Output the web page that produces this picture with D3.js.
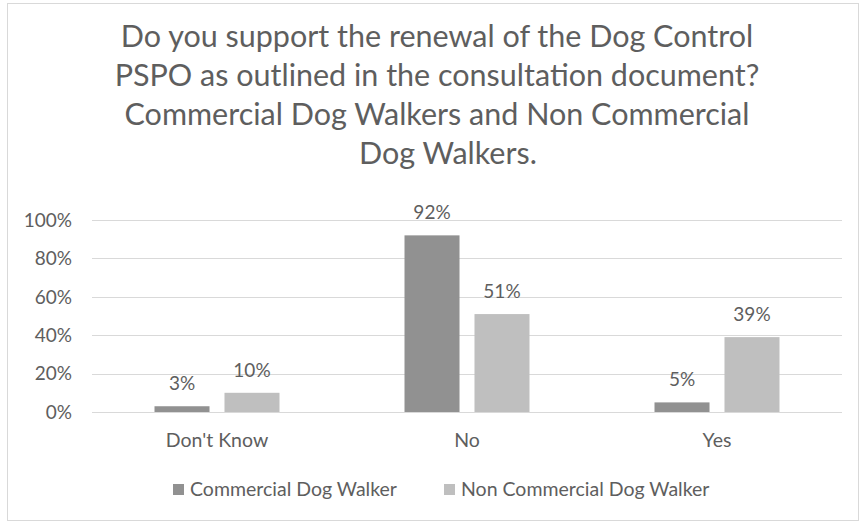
<!DOCTYPE html>
<html>
<head>
<meta charset="utf-8">
<script src="https://cdn.jsdelivr.net/npm/d3@7"></script>
<style>
  html, body { margin: 0; padding: 0; background: #fff; }
  svg { display: block; font-family: Lato, "Noto Sans", sans-serif; }
</style>
</head>
<body>
<svg id="chart" width="868" height="523"></svg>
<script>
const titleLines = [
  "Do you support the renewal of the Dog Control",
  "PSPO as outlined in the consultation document?",
  "Commercial Dog Walkers and Non Commercial",
  "Dog Walkers."
];
const categories = ["Don't Know", "No", "Yes"];
const seriesNames = ["Commercial Dog Walker", "Non Commercial Dog Walker"];
const commercial = [3, 92, 5];
const nonCommercial = [10, 51, 39];
const yTicks = [0, 20, 40, 60, 80, 100];
const colors = ["#919191", "#bfbfbf"];

const svg = d3.select("#chart");
const textColor = "#5e5e5e";

// outer frame
svg.append("rect")
  .attr("x", 7.5).attr("y", 3.5)
  .attr("width", 851).attr("height", 517)
  .attr("fill", "#fff").attr("stroke", "#d9d9d9").attr("stroke-width", 1);

// title, centred; the last line sits a little to the right
const titleX = [437, 437, 437, 448];
const title = svg.append("text")
  .attr("text-anchor", "middle")
  .attr("fill", textColor)
  .attr("font-size", 30.5);
titleLines.forEach((line, i) => {
  title.append("tspan")
    .attr("x", titleX[i])
    .attr("y", 47 + i * 39)
    .text(line);
});

const plot = { left: 92, right: 842, top: 220, bottom: 412 };

const x0 = d3.scaleBand()
  .domain(categories)
  .range([plot.left, plot.right]);

const x1 = d3.scaleBand()
  .domain(seriesNames)
  .range([0, x0.bandwidth()])
  .paddingInner(0.214)
  .paddingOuter(0.893);

const y = d3.scaleLinear()
  .domain([0, 100])
  .range([plot.bottom, plot.top]);

// gridlines
svg.append("g")
  .selectAll("line")
  .data(yTicks)
  .join("line")
  .attr("x1", plot.left).attr("x2", plot.right)
  .attr("y1", d => Math.round(y(d)) + 0.5)
  .attr("y2", d => Math.round(y(d)) + 0.5)
  .attr("stroke", "#d9d9d9")
  .attr("stroke-width", 1);

// y axis labels
svg.append("g")
  .selectAll("text")
  .data(yTicks)
  .join("text")
  .attr("x", 72)
  .attr("y", d => y(d))
  .attr("dy", "0.36em")
  .attr("text-anchor", "end")
  .attr("fill", textColor)
  .attr("font-size", 19)
  .text(d => d + "%");

const rows = categories.map((c, i) => ({
  category: c,
  values: [
    { series: seriesNames[0], value: commercial[i], color: colors[0] },
    { series: seriesNames[1], value: nonCommercial[i], color: colors[1] }
  ]
}));

const groups = svg.append("g")
  .selectAll("g")
  .data(rows)
  .join("g")
  .attr("transform", d => `translate(${x0(d.category)},0)`);

groups.selectAll("rect")
  .data(d => d.values)
  .join("rect")
  .attr("x", d => x1(d.series))
  .attr("width", x1.bandwidth())
  .attr("y", d => y(d.value))
  .attr("height", d => y(0) - y(d.value))
  .attr("fill", d => d.color);

// value labels above each bar
groups.selectAll("text.value")
  .data(d => d.values)
  .join("text")
  .attr("class", "value")
  .attr("x", d => x1(d.series) + x1.bandwidth() / 2)
  .attr("y", d => y(d.value) - 16)
  .attr("text-anchor", "middle")
  .attr("fill", textColor)
  .attr("font-size", 19)
  .text(d => d.value + "%");

// category axis labels
svg.append("g")
  .selectAll("text")
  .data(categories)
  .join("text")
  .attr("x", d => x0(d) + x0.bandwidth() / 2)
  .attr("y", 447)
  .attr("text-anchor", "middle")
  .attr("fill", textColor)
  .attr("font-size", 19.5)
  .text(d => d);

// legend
const legendX = [173, 444];
const legend = svg.append("g")
  .selectAll("g")
  .data(seriesNames)
  .join("g")
  .attr("transform", (d, i) => `translate(${legendX[i]},496)`);
legend.append("rect")
  .attr("x", 0).attr("y", -12)
  .attr("width", 11).attr("height", 11)
  .attr("fill", (d, i) => colors[i]);
legend.append("text")
  .attr("x", 17)
  .attr("y", 0)
  .attr("fill", textColor)
  .attr("font-size", 19.5)
  .text(d => d);
</script>
</body>
</html>
